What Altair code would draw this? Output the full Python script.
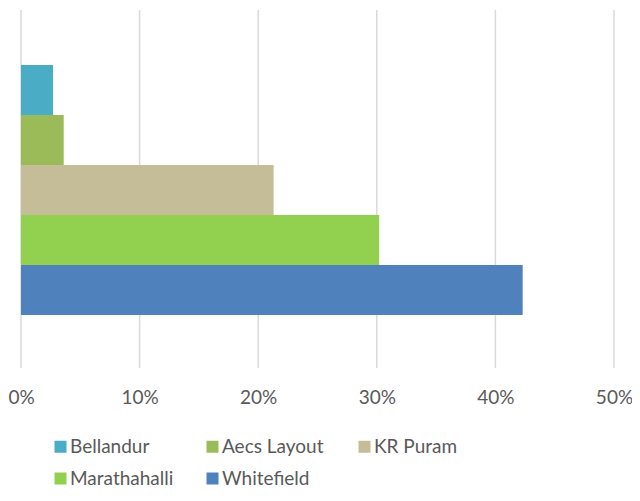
import altair as alt
import pandas as pd

areas = ["Bellandur", "Aecs Layout", "KR Puram", "Marathahalli", "Whitefield"]
shares = [0.027, 0.036, 0.213, 0.302, 0.423]
colors = ["#4BACC6", "#9BBB59", "#C4BD97", "#92D050", "#4F81BD"]
ticks = [0, 0.1, 0.2, 0.3, 0.4, 0.5]

df = pd.DataFrame({"area": areas, "share": shares})
grid_df = pd.DataFrame({"tick": ticks})

FONT = "Lato"

xscale = alt.Scale(domain=[0, 0.5], nice=False)
xaxis = alt.Axis(values=ticks, format=".0%", title=None, domain=False, ticks=False,
                 grid=False,
                 labelColor="#595959", labelFont=FONT, labelFontSize=19,
                 labelPadding=20, labelFlush=False)

grid = alt.Chart(grid_df).mark_rule(color="#D9D9D9", strokeWidth=1.5).encode(
    x=alt.X("tick:Q", scale=xscale, axis=xaxis)
)

bars = alt.Chart(df).mark_bar().encode(
    x=alt.X("share:Q", scale=xscale, axis=xaxis),
    y=alt.Y("area:N", sort=areas,
            scale=alt.Scale(paddingInner=0, paddingOuter=0, range=[55, 305]),
            axis=None),
    color=alt.Color("area:N", sort=areas,
                    scale=alt.Scale(domain=areas, range=colors),
                    legend=alt.Legend(title=None, orient="none", legendX=30, legendY=427,
                                      direction="horizontal",
                                      columns=3, gridAlign="all", columnPadding=29,
                                      rowPadding=12, symbolType="square", symbolSize=144,
                                      symbolStrokeWidth=0, labelFont=FONT, labelFontSize=19,
                                      labelColor="#595959", labelOffset=0, padding=0)),
)

chart = alt.layer(grid, bars).properties(
    width=593, height=358,
    autosize=alt.AutoSizeParams(type="none"),
    padding={"left": 13, "top": 2, "right": 18, "bottom": 120},
).configure_view(stroke=None)

chart.save("out.html", embed_options={"renderer": "svg", "actions": False})
